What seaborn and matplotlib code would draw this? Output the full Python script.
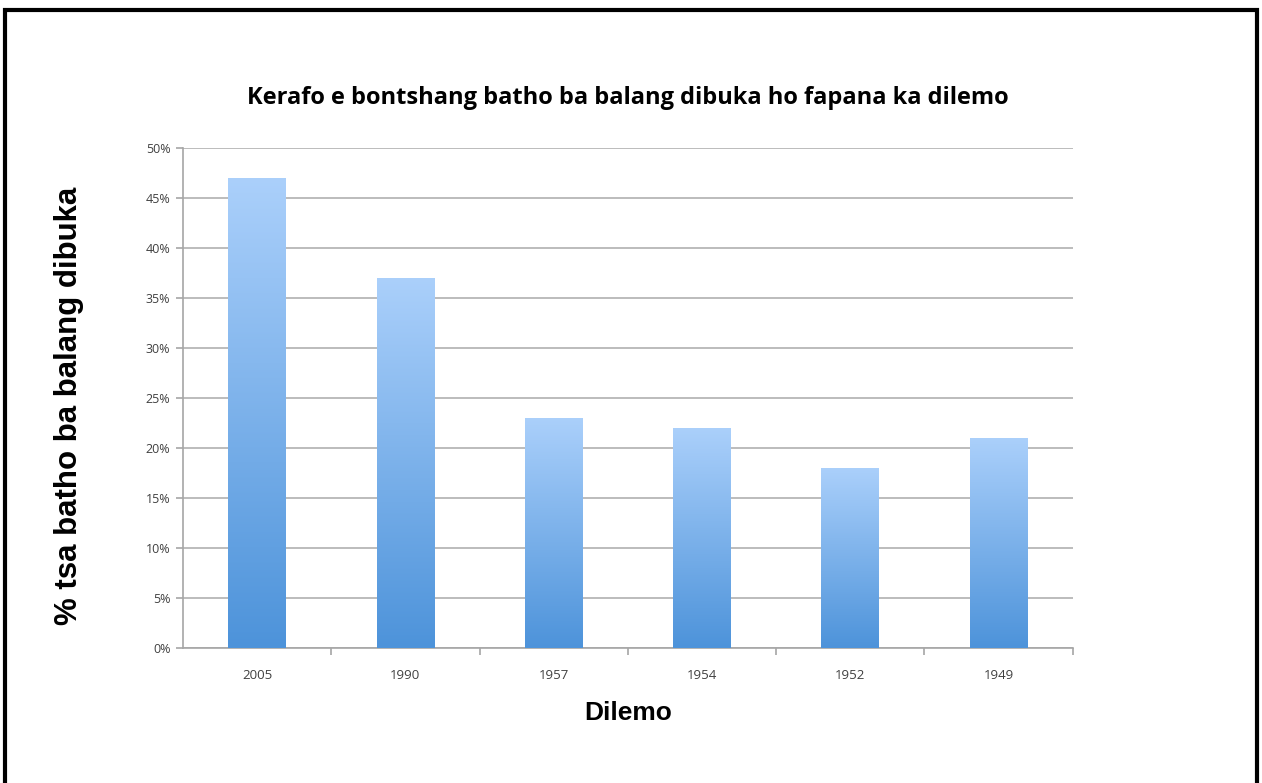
import numpy as np
import pandas as pd
import matplotlib
matplotlib.use('Agg')
import matplotlib.pyplot as plt
import seaborn as sns
from matplotlib.colors import LinearSegmentedColormap
from matplotlib.patches import Rectangle

# data
dilemo = ['2005', '1990', '1957', '1954', '1952', '1949']
diperesente = [47, 37, 23, 22, 18, 21]
yticks = [0, 5, 10, 15, 20, 25, 30, 35, 40, 45, 50]

df = pd.DataFrame({'Dilemo': dilemo, 'Peresente': diperesente})

sns.set_theme(style='white')
plt.rcParams['font.family'] = ['Open Sans', 'DejaVu Sans']

fig = plt.figure(figsize=(12.62, 7.83), dpi=100)
ax = fig.add_axes([0.145, 0.1724, 0.705, 0.6386])

sns.barplot(data=df, x='Dilemo', y='Peresente', ax=ax, width=0.39,
            color='#7fb2ee', edgecolor='none', zorder=3)

# gradient fill, light on top, darker at the bottom
cmap = LinearSegmentedColormap.from_list('bar', ['#4d93da', '#abd0fb'])
grad = np.linspace(0, 1, 256).reshape(-1, 1)
for p in ax.patches:
    x0, y0 = p.get_x(), p.get_y()
    w, h = p.get_width(), p.get_height()
    im = ax.imshow(grad, cmap=cmap, aspect='auto', origin='lower',
                   extent=[x0, x0 + w, y0, y0 + h], zorder=3)
    im.set_clip_path(p)
    p.set_facecolor('none')

ax.set_xlim(-0.5, 5.5)
ax.set_ylim(0, 50)
ax.set_yticks(yticks)
ax.set_yticklabels([f'{v}%' for v in yticks])
ax.set_xticks(np.arange(0.5, 6, 1), minor=True)
ax.grid(axis='y', color='#b0b0b0', linewidth=1.2, zorder=0)
ax.set_axisbelow(True)

for s in ['top', 'right']:
    ax.spines[s].set_visible(False)
for s in ['left', 'bottom']:
    ax.spines[s].set_color('#a6a6a6')
    ax.spines[s].set_linewidth(1.2)

ax.tick_params(axis='y', which='major', length=5, width=1.2, color='#a6a6a6',
               labelsize=9, labelcolor='#404040', pad=4, left=True)
ax.tick_params(axis='x', which='major', length=0, labelsize=9.5,
               labelcolor='#404040', pad=15)
ax.tick_params(axis='x', which='minor', length=5, width=1.2,
               color='#a6a6a6', bottom=True)

ax.set_xlabel('Dilemo', family=['Liberation Sans', 'DejaVu Sans'],
              fontsize=19, fontweight='bold', color='black', labelpad=14)
ax.set_ylabel('% tsa batho ba balang dibuka',
              family=['Liberation Sans', 'DejaVu Sans'],
              fontsize=22.5, fontweight='bold', color='black')
ax.yaxis.set_label_coords(-0.111, 0.485)
ax.set_title('Kerafo e bontshang batho ba balang dibuka ho fapana ka dilemo',
             fontsize=17, fontweight='bold', color='black', pad=32)

# black frame around the whole picture
fig.patches.append(Rectangle((5 / 1262, -0.1), 1252 / 1262, 1.1 - 10 / 783,
                             transform=fig.transFigure, fill=False,
                             edgecolor='black', linewidth=3, zorder=10))

fig.savefig('out.png', dpi=100)
